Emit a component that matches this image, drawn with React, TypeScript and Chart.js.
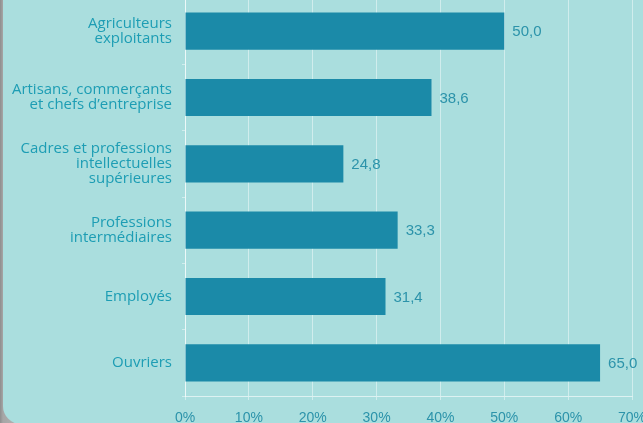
import React, { useEffect, useRef } from "react";
import { Chart, registerables } from "chart.js";

Chart.register(...registerables);

const categories: string[][] = [
  ["Agriculteurs", "exploitants"],
  ["Artisans, commerçants", "et chefs d’entreprise"],
  ["Cadres et professions", "intellectuelles", "supérieures"],
  ["Professions", "intermédiaires"],
  ["Employés"],
  ["Ouvriers"],
];
const values: number[] = [50.0, 38.6, 24.8, 33.3, 31.4, 65.0];
const xMin = 0;
const xMax = 70;
const xStep = 10;

const BAR = "#1b8aa8";
const LABEL = "#1d9db4";
const VALUE = "#2c93aa";
const GRID = "rgba(255,255,255,0.45)";

const valueLabels = {
  id: "valueLabels",
  afterDatasetsDraw(chart: any) {
    const ctx = chart.ctx;
    const meta = chart.getDatasetMeta(0);
    ctx.save();
    ctx.font = "15px 'Liberation Sans', Arial, sans-serif";
    ctx.fillStyle = VALUE;
    ctx.textAlign = "left";
    ctx.textBaseline = "middle";
    meta.data.forEach((el: any, i: number) => {
      const txt = values[i].toFixed(1).replace(".", ",");
      ctx.fillText(txt, el.x + 8, el.y + 1);
    });
    ctx.restore();
  },
};

export default function App() {
  const ref = useRef<HTMLCanvasElement | null>(null);
  useEffect(() => {
    if (!ref.current) return;
    const chart = new Chart(ref.current, {
      type: "bar",
      data: {
        labels: categories as any,
        datasets: [
          {
            data: values,
            backgroundColor: BAR,
            borderWidth: 0,
            barPercentage: 0.56,
            categoryPercentage: 1,
          },
        ],
      },
      options: {
        indexAxis: "y",
        animation: false,
        responsive: false,
        layout: { padding: { left: 0, right: 30, top: 0, bottom: 0 } },
        plugins: { legend: { display: false }, tooltip: { enabled: false } },
        scales: {
          x: {
            min: xMin,
            max: xMax,
            afterFit: (s: any) => {
              s.height = 30;
            },
            ticks: {
              stepSize: xStep,
              callback: (v: any) => v + "%",
              color: VALUE,
              padding: 10,
              font: { family: "'Liberation Sans', Arial, sans-serif", size: 14 },
            },
            grid: { color: GRID, tickLength: 4, drawTicks: true },
            border: { display: true, color: "rgba(255,255,255,0.6)" },
          },
          y: {
            afterFit: (s: any) => {
              s.width = 185;
              s.paddingTop = 0;
              s.paddingBottom = 0;
            },
            ticks: {
              color: LABEL,
              padding: 10,
              font: { family: "'Open Sans', sans-serif", size: 15, lineHeight: 1.0 },
            },
            grid: {
              display: true,
              drawOnChartArea: false,
              drawTicks: true,
              tickLength: 3,
              offset: true,
              color: GRID,
            },
            border: { display: true, color: "rgba(255,255,255,0.6)" },
          },
        },
      },
      plugins: [valueLabels],
    });
    return () => chart.destroy();
  }, []);

  return (
    <div
      style={{
        position: "fixed",
        left: 0,
        top: 0,
        width: 643,
        height: 423,
        overflow: "hidden",
        background: "linear-gradient(to right, #8e8e8e 0px, #a6a6a6 3px, #b4b4b4 20px)",
      }}
    >
      <div
        style={{
          position: "absolute",
          left: 3,
          top: -30,
          width: 720,
          height: 454,
          background: "#aadede",
          borderRadius: 18,
        }}
      />
      <canvas
        ref={ref}
        width={662}
        height={428}
        style={{ position: "absolute", left: 0, top: -2, width: 662, height: 428 }}
      />
    </div>
  );
}
